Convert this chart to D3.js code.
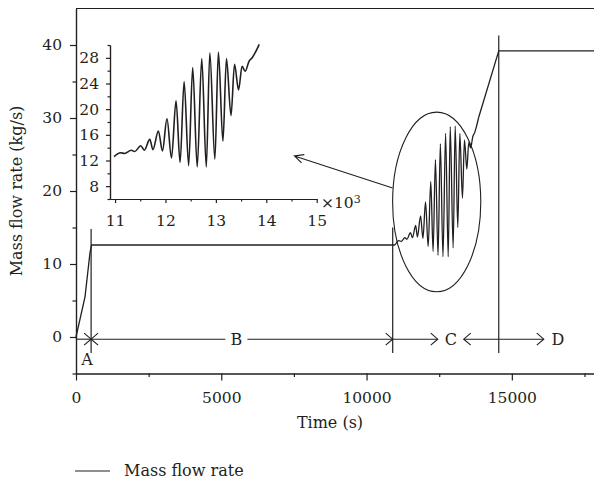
<!DOCTYPE html>
<html>
<head>
<meta charset="utf-8">
<script src="https://cdnjs.cloudflare.com/ajax/libs/d3/7.8.5/d3.min.js"></script>
<style>
  body { margin: 0; background: #fff; }
  svg { display: block; }
</style>
</head>
<body>
<svg id="chart"></svg>
<script>
// Mass flow rate (kg/s) against time (s)
const time = [0, 310, 483, 535, 10900, 10980, 11110, 11190, 11320, 11390, 11510, 11580,
    11690, 11750, 11860, 11940, 12030, 12120, 12210, 12290, 12370, 12460, 12540, 12630,
    12720, 12810, 12880, 12980, 13050, 13140, 13210, 13300, 13370, 13450, 13520, 13580,
    13660, 13720, 13780, 13860, 14550, 18000];
const flow = [0, 5.5, 11.6, 12.6, 12.6, 12.6, 13.2, 13.1, 13.6, 13.4, 14.3, 13.6,
    15.3, 13.7, 16.6, 13.5, 18.5, 12.4, 21.3, 11.7, 24.3, 11.2, 26.5, 11.0,
    27.9, 11.0, 28.8, 12.2, 28.9, 15.0, 27.9, 19.0, 27.0, 23.0, 26.7, 25.9,
    27.5, 28.0, 28.8, 30.1, 39.2, 39.2];

const xMajorTicks = [0, 5000, 10000, 15000];
const xMinorTicks = [2500, 7500, 12500, 17500];
const yMajorTicks = [0, 10, 20, 30, 40];
const yMinorTicks = [-5, 5, 15, 25, 35];

// inset (time in 10^3 s)
const insetXTicks = [11, 12, 13, 14, 15];
const insetXMinor = [11.5, 12.5, 13.5, 14.5];
const insetYTicks = [8, 12, 16, 20, 24, 28];
const insetYMinor = [6, 10, 14, 18, 22, 26, 30];
const insetStart = 10980, insetEnd = 13860;

// phase boundaries (s), top of each boundary line (kg/s)
const phaseTime = [520, 10900, 14550];
const phaseTop = [14.8, 15.0, 41.3];
const phaseBottom = -2.2;
const arrowLevel = -0.3;
const arrowFrom = [0, 520, 5900, 10900, 13345];
const arrowTo = [520, 5140, 10900, 12450, 16100];
const arrowHeads = ["end", "start", "end", "end", "both"];
const phaseLabels = ["A", "B", "C", "D"];
const phaseLabelTime = [380, 5520, 12900, 16590];
const phaseLabelFlow = [-3.8, arrowLevel, arrowLevel, arrowLevel];

// zoom ellipse and pointer to the inset
const ellipseCenter = [12414, 18.5];
const ellipseRadius = [1517, 12.3];
const pointerFrom = [10897, 20.4];
const pointerTo = [7517, 24.8];

const width = 594, height = 479;
const ink = "#231f20";
const font = "'DejaVu Serif', serif";
const fmt = d3.format("d");

const svg = d3.select("#chart")
    .attr("width", width)
    .attr("height", height)
    .style("font-family", font);

const x = d3.scaleLinear().domain([0, 18000]).range([76, 599]);
const y = d3.scaleLinear().domain([-5, 45]).range([373.5, 8.5]);

const ix = d3.scaleLinear().domain([10.9, 15]).range([110, 316.7]);
const iy = d3.scaleLinear().domain([6, 30]).range([199, 45]);

function styleAxis(g, size) {
    g.selectAll("path, line").attr("stroke", ink).attr("stroke-width", 1.2);
    g.selectAll("text").attr("fill", ink).attr("font-family", font).attr("font-size", size);
}

// main axes
svg.append("g")
    .attr("transform", `translate(0,${y(-5)})`)
    .call(d3.axisBottom(x).tickValues(xMajorTicks).tickFormat(fmt).tickSize(7).tickPadding(11).tickSizeOuter(0))
    .call(g => styleAxis(g, 15.5));
svg.append("g")
    .attr("transform", `translate(0,${y(-5)})`)
    .call(d3.axisBottom(x).tickValues(xMinorTicks).tickSize(3.5).tickFormat("").tickSizeOuter(0))
    .call(g => styleAxis(g, 15.5));
svg.append("g")
    .attr("transform", `translate(${x(0)},0)`)
    .call(d3.axisLeft(y).tickValues(yMajorTicks).tickFormat(fmt).tickSize(6).tickPadding(8).tickSizeOuter(0))
    .call(g => styleAxis(g, 15.5));
svg.append("g")
    .attr("transform", `translate(${x(0)},0)`)
    .call(d3.axisLeft(y).tickValues(yMinorTicks).tickSize(3.5).tickFormat("").tickSizeOuter(0))
    .call(g => styleAxis(g, 15.5));

svg.append("line")
    .attr("x1", x(0)).attr("x2", width)
    .attr("y1", y(45)).attr("y2", y(45))
    .attr("stroke", ink).attr("stroke-width", 1.2);

svg.append("text")
    .attr("x", 330).attr("y", 428)
    .attr("text-anchor", "middle")
    .attr("font-size", 16).attr("fill", ink)
    .text("Time (s)");

svg.append("text")
    .attr("transform", `translate(22,${y(20)}) rotate(-90)`)
    .attr("text-anchor", "middle")
    .attr("font-size", 16).attr("fill", ink)
    .text("Mass flow rate (kg/s)");

// main curve: straight ramps, smoothed oscillation
const series = d3.zip(time, flow);
const straight = d3.line().x(d => x(d[0])).y(d => y(d[1]));
const smooth = d3.line().x(d => x(d[0])).y(d => y(d[1])).curve(d3.curveMonotoneX);
const parts = [
    [straight, series.filter(d => d[0] <= insetStart)],
    [smooth, series.filter(d => d[0] >= insetStart && d[0] <= insetEnd)],
    [straight, series.filter(d => d[0] >= insetEnd)]
];

svg.append("g")
    .selectAll("path")
    .data(parts)
    .join("path")
    .attr("d", d => d[0](d[1]))
    .attr("fill", "none")
    .attr("stroke", ink)
    .attr("stroke-width", 1.3)
    .attr("stroke-linejoin", "round");

// phase boundaries
svg.append("g")
    .selectAll("line")
    .data(phaseTime)
    .join("line")
    .attr("x1", d => x(d)).attr("x2", d => x(d))
    .attr("y1", (d, i) => y(phaseTop[i])).attr("y2", y(phaseBottom))
    .attr("stroke", ink).attr("stroke-width", 1.2);

function chevron(px, py, dir) {
    // open arrow head with its tip at (px, py); dir = +1 right, -1 left
    return `M${px - dir * 7},${py - 6}L${px},${py}L${px - dir * 7},${py + 6}`;
}

const arrows = svg.append("g")
    .attr("fill", "none")
    .attr("stroke", ink)
    .attr("stroke-width", 1.1);

arrowFrom.forEach((from, i) => {
    const x1 = x(from), x2 = x(arrowTo[i]), yy = y(arrowLevel);
    arrows.append("line").attr("x1", x1).attr("x2", x2).attr("y1", yy).attr("y2", yy);
    if (arrowHeads[i] === "end" || arrowHeads[i] === "both") {
        arrows.append("path").attr("d", chevron(x2, yy, 1));
    }
    if (arrowHeads[i] === "start" || arrowHeads[i] === "both") {
        arrows.append("path").attr("d", chevron(x1, yy, -1));
    }
});

svg.append("g")
    .selectAll("text")
    .data(phaseLabels)
    .join("text")
    .attr("x", (d, i) => x(phaseLabelTime[i]))
    .attr("y", (d, i) => y(phaseLabelFlow[i]))
    .attr("dy", (d, i) => i === 0 ? 0 : "0.36em")
    .attr("text-anchor", "middle")
    .attr("font-size", 16)
    .attr("fill", ink)
    .text(d => d);

// zoom ellipse and pointer
svg.append("ellipse")
    .attr("cx", x(ellipseCenter[0]))
    .attr("cy", y(ellipseCenter[1]))
    .attr("rx", x(ellipseCenter[0] + ellipseRadius[0]) - x(ellipseCenter[0]))
    .attr("ry", y(ellipseCenter[1] - ellipseRadius[1]) - y(ellipseCenter[1]))
    .attr("fill", "none")
    .attr("stroke", ink)
    .attr("stroke-width", 1.1);

const px1 = x(pointerFrom[0]), py1 = y(pointerFrom[1]);
const px2 = x(pointerTo[0]), py2 = y(pointerTo[1]);
const ang = Math.atan2(py1 - py2, px1 - px2);
const headLen = 10, headSpread = 0.45;
svg.append("path")
    .attr("d", `M${px1},${py1}L${px2},${py2}` +
        `M${px2 + headLen * Math.cos(ang - headSpread)},${py2 + headLen * Math.sin(ang - headSpread)}` +
        `L${px2},${py2}` +
        `L${px2 + headLen * Math.cos(ang + headSpread)},${py2 + headLen * Math.sin(ang + headSpread)}`)
    .attr("fill", "none")
    .attr("stroke", ink)
    .attr("stroke-width", 1.1);

// inset
const inset = svg.append("g");
inset.append("g")
    .attr("transform", `translate(0,${iy(6)})`)
    .call(d3.axisBottom(ix).tickValues(insetXTicks).tickFormat(fmt).tickSize(4).tickPadding(12).tickSizeOuter(0))
    .call(g => styleAxis(g, 15.5));
inset.append("g")
    .attr("transform", `translate(0,${iy(6)})`)
    .call(d3.axisBottom(ix).tickValues(insetXMinor).tickSize(2.5).tickFormat("").tickSizeOuter(0))
    .call(g => styleAxis(g, 15.5));
inset.append("g")
    .attr("transform", `translate(${ix(10.9)},0)`)
    .call(d3.axisLeft(iy).tickValues(insetYTicks).tickFormat(fmt).tickSize(4).tickPadding(7).tickSizeOuter(0))
    .call(g => styleAxis(g, 15.5));
inset.append("g")
    .attr("transform", `translate(${ix(10.9)},0)`)
    .call(d3.axisLeft(iy).tickValues(insetYMinor).tickSize(2.5).tickFormat("").tickSizeOuter(0))
    .call(g => styleAxis(g, 15.5));

const scaleLabel = inset.append("text")
    .attr("x", 321).attr("y", 208)
    .attr("font-size", 15.5).attr("fill", ink)
    .text("×10");
scaleLabel.append("tspan")
    .attr("dy", "-0.45em")
    .attr("font-size", 11)
    .text("3");

const insetSeries = series
    .filter(d => d[0] >= insetStart && d[0] <= insetEnd)
    .map(d => [d[0] / 1000, d[1]]);

inset.append("path")
    .datum(insetSeries)
    .attr("d", d3.line().x(d => ix(d[0])).y(d => iy(d[1])).curve(d3.curveMonotoneX))
    .attr("fill", "none")
    .attr("stroke", ink)
    .attr("stroke-width", 1.6);

// legend
svg.append("line")
    .attr("x1", 75).attr("x2", 110)
    .attr("y1", 471).attr("y2", 471)
    .attr("stroke", ink).attr("stroke-width", 1.2);
svg.append("text")
    .attr("x", 124).attr("y", 476)
    .attr("font-size", 16).attr("fill", ink)
    .text("Mass flow rate");
</script>
</body>
</html>
